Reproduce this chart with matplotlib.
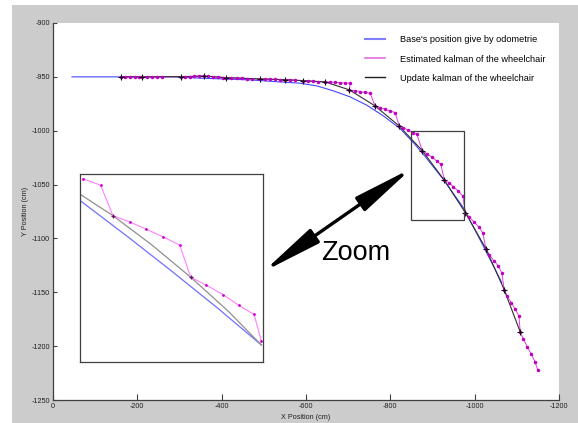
import matplotlib
matplotlib.use('Agg')
from matplotlib import pyplot as plt
from matplotlib import font_manager
from matplotlib.patches import Rectangle, FancyArrowPatch, ArrowStyle
from matplotlib.lines import Line2D

# odometry path (cm)
odo_x = [-45.0, -291.8, -348.8, -467.4, -538.6, -586.0, -625.6, -665.0, -704.6,
         -744.2, -783.6, -823.2, -854.8, -878.5, -926.0, -973.4, -1020.9, -1064.5]
odo_y = [-950.0, -950.0, -951.2, -952.8, -954.7, -955.9, -958.4, -963.0, -968.6,
         -976.3, -986.3, -998.0, -1011.1, -1022.0, -1045.3, -1071.6, -1107.4, -1141.2]

# kalman prediction (cm)
est_x = [-160.6, -170.8, -182.7, -194.5, -204.7,
         -210.4, -222.3, -234.2, -246.0, -257.9,
         -303.7, -313.2, -325.0, -335.2, -347.1,
         -358.2, -368.4, -380.3, -392.2, -404.0,
         -410.4, -422.3, -435.8, -447.7, -459.5, -471.4,
         -489.9, -503.0, -514.8, -526.7, -538.6,
         -550.4, -562.3, -574.1,
         -593.1, -605.7, -617.6, -629.4,
         -645.3, -657.2, -669.0, -680.9, -692.8, -704.6,
         -703.0, -716.5, -728.4, -740.2, -752.1,
         -763.9, -775.8, -787.7, -799.5, -811.4,
         -820.9, -831.1, -842.9, -854.8, -862.9,
         -876.2, -886.6, -898.5, -910.3, -919.8,
         -928.4, -939.5, -949.7, -961.6, -972.0,
         -978.2, -987.0, -998.8, -1010.0, -1019.5,
         -1026.6, -1034.4, -1045.6, -1055.8, -1064.5,
         -1070.0, -1076.4, -1086.6, -1096.1, -1104.9,
         -1108.0, -1115.8, -1124.6, -1134.1, -1142.8, -1149.9]
est_y = [-950.0, -950.0, -950.0, -950.0, -950.0,
         -950.0, -950.0, -950.0, -950.0, -950.0,
         -949.8, -949.8, -949.8, -949.5, -949.1,
         -949.3, -949.5, -949.9, -950.3, -950.6,
         -950.7, -951.0, -951.2, -951.4, -951.6, -951.8,
         -951.9, -952.0, -952.2, -952.4, -952.6,
         -952.6, -952.9, -953.2,
         -953.5, -953.8, -954.1, -954.4,
         -954.7, -954.8, -955.1, -955.4, -955.7, -955.9,
         -962.1, -963.0, -963.6, -964.5, -965.2,
         -977.0, -978.5, -980.1, -981.7, -983.1,
         -995.6, -997.1, -999.6, -1001.8, -1003.4,
         -1018.7, -1021.3, -1024.5, -1028.2, -1031.3,
         -1046.2, -1048.3, -1052.1, -1056.1, -1060.8,
         -1076.3, -1080.0, -1085.0, -1089.3, -1094.9,
         -1109.5, -1115.1, -1120.7, -1125.3, -1132.1,
         -1147.6, -1153.3, -1159.5, -1165.6, -1171.9,
         -1186.8, -1193.6, -1200.5, -1207.3, -1214.4, -1222.2]

# kalman update (cm)
upd_x = [-160.6, -210.4, -303.7, -358.2, -410.4, -489.9, -550.4, -593.1, -645.3,
         -703.0, -763.9, -820.9, -876.2, -928.4, -978.2, -1026.6, -1070.0, -1108.0]
upd_y = [-950.0, -950.0, -949.8, -949.3, -950.7, -951.9, -952.6, -953.5, -954.7,
         -962.1, -977.0, -995.6, -1018.7, -1046.2, -1076.3, -1109.5, -1147.6, -1186.8]

# inset (zoomed) curves
zoom_odo_x = [-870.4, -896.2, -919.9, -945.4, -969.1]
zoom_odo_y = [-1014.4, -1033.5, -1051.6, -1071.6, -1091.1]
zoom_upd_x = [-870.4, -888.0, -909.0, -930.5, -950.9, -969.1]
zoom_upd_y = [-1011.0, -1022.2, -1037.6, -1055.0, -1073.0, -1091.1]
zoom_est_x = [-871.5, -881.3, -888.0, -897.1, -906.2, -915.4, -924.5,
              -930.5, -939.0, -948.1, -956.7, -965.1, -969.1]
zoom_est_y = [-1002.5, -1006.0, -1022.2, -1025.5, -1029.4, -1033.5, -1037.9,
              -1055.0, -1059.2, -1064.2, -1069.9, -1074.8, -1089.0]
zoom_cross_x = [-888.0, -930.5]
zoom_cross_y = [-1022.2, -1055.0]

labels = ["Base's position give by odometrie",
          "Estimated kalman of the wheelchair",
          "Update kalman of the wheelchair"]
xticks = [0, -200, -400, -600, -800, -1000, -1200]
yticks = [-900, -950, -1000, -1050, -1100, -1150, -1200, -1250]

names = set(f.name for f in font_manager.fontManager.ttflist)
narrow = 'Liberation Sans Narrow' if 'Liberation Sans Narrow' in names else 'Liberation Sans'
plt.rcParams['font.family'] = [narrow, 'DejaVu Sans']
plt.rcParams['axes.unicode_minus'] = False

W, H = 578, 423
fig = plt.figure(figsize=(W / 100, H / 100), dpi=100, facecolor='white')
fig.add_artist(Rectangle((12 / W, 0), 566 / W, 418 / H, transform=fig.transFigure,
                         facecolor='#cccccc', edgecolor='none', zorder=-5))

ax = fig.add_axes([53 / W, 23 / H, 506 / W, 377 / H])
ax.plot(odo_x, odo_y, color='#4646ff', lw=0.8, zorder=2)
ax.plot(est_x, est_y, color='#e040e0', lw=0.7, zorder=3)
ax.plot(est_x, est_y, ls='none', marker='.', ms=3, color='#c000c0', zorder=4)
ax.plot(upd_x, upd_y, color='#303030', lw=0.8, zorder=3)
ax.plot(upd_x, upd_y, ls='none', marker='+', ms=5, mew=0.8, color='#101010', zorder=5)

ax.set_xlim(0, -1200)
ax.set_ylim(-1250, -900)
ax.set_xticks(xticks)
ax.set_yticks(yticks)
ax.spines['top'].set_visible(False)
ax.spines['right'].set_visible(False)
for s in ('left', 'bottom'):
    ax.spines[s].set_color('#404040')
    ax.spines[s].set_linewidth(0.9)
ax.tick_params(axis='x', direction='in', length=4.5, width=0.8, color='#404040',
               labelsize=5.2, pad=2, labelcolor='#202020')
ax.tick_params(axis='y', direction='in', length=3, width=0.8, color='#404040',
               labelsize=5.2, pad=2.2, labelcolor='#202020')
ax.set_xlabel('X Position (cm)', fontsize=5.2, color='#202020')
ax.set_ylabel('Y Position (cm)', fontsize=5.2, color='#202020')
ax.xaxis.set_label_coords(0.5, -0.036)
ax.yaxis.set_label_coords(-0.048, 0.5)

# zoomed region box
ax.add_patch(Rectangle((-849.4, -1083.1), -125.0, 83.2, fill=False,
                       edgecolor='#404040', lw=0.9, zorder=6))

handles = [Line2D([], [], color='#8080ff', lw=1.5),
           Line2D([], [], color='#e070e0', lw=1.2),
           Line2D([], [], color='#202020', lw=1.0)]
fig.legend(handles, labels, loc='upper left', bbox_to_anchor=(365 / W, 1 - 35.5 / H),
           frameon=False, handlelength=2.2, handletextpad=1.6,
           labelspacing=1.1, borderpad=0, borderaxespad=0,
           prop={'family': [narrow, 'DejaVu Sans'], 'size': 6.6})

# inset
ins = fig.add_axes([80 / W, 61.3 / H, 183 / W, 187.7 / H])
ins.plot(zoom_odo_x, zoom_odo_y, color='#7070ff', lw=0.9)
ins.plot(zoom_upd_x, zoom_upd_y, color='#909090', lw=0.9)
ins.plot(zoom_est_x, zoom_est_y, color='#ff80ff', lw=0.8)
ins.plot(zoom_est_x, zoom_est_y, ls='none', marker='.', ms=2, color='#d000d0')
ins.plot(zoom_cross_x, zoom_cross_y, ls='none', marker='+', ms=3, mew=0.8, color='#502050')
ins.set_xlim(-870, -970)
ins.set_ylim(-1100, -1000)
ins.set_xticks([])
ins.set_yticks([])
for s in ins.spines.values():
    s.set_color('#404040')
    s.set_linewidth(0.9)

arrow = FancyArrowPatch((263.3 / W, 1 - 271.7 / H), (411.7 / W, 1 - 168.3 / H),
                        transform=fig.transFigure,
                        arrowstyle=ArrowStyle('<|-|>', head_length=3.6, head_width=0.5),
                        mutation_scale=10, lw=2.4, color='black',
                        shrinkA=0, shrinkB=0, zorder=8)
fig.add_artist(arrow)
fig.text(355.8 / W, 1 - 260 / H, 'Zoom', fontsize=19.5, ha='center', va='baseline',
         color='black', zorder=9)

fig.savefig('out.png', dpi=100, facecolor='white')
